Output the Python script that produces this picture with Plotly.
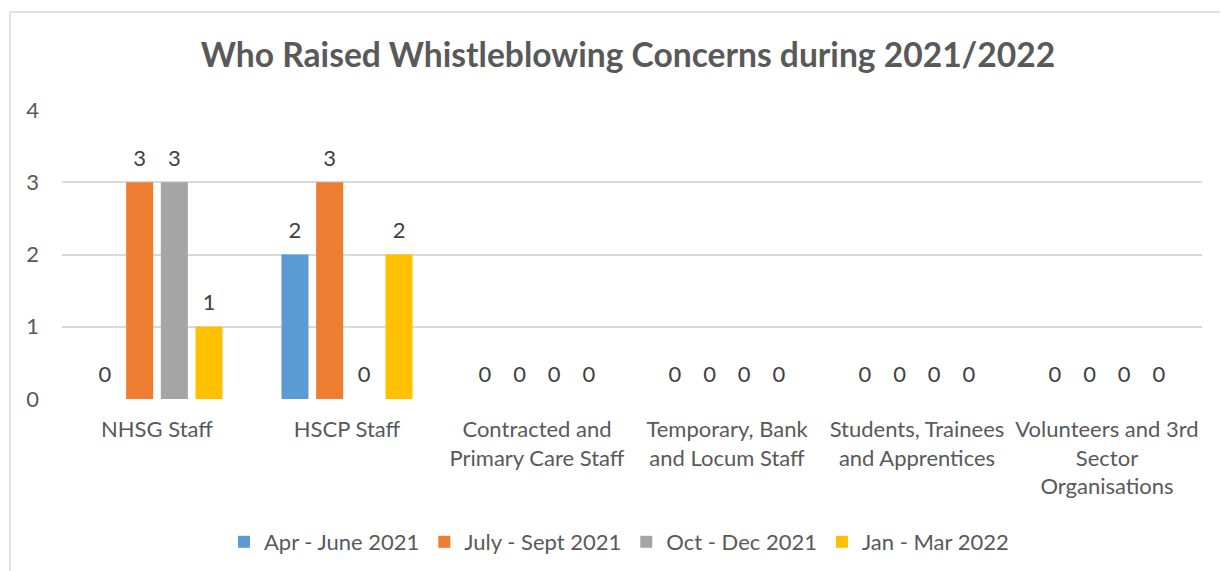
import plotly.graph_objects as go

categories = ["NHSG Staff", "HSCP Staff", "Contracted and<br>Primary Care Staff",
              "Temporary, Bank<br>and Locum Staff", "Students, Trainees<br>and Apprentices",
              "Volunteers and 3rd<br>Sector<br>Organisations"]
series_names = ["Apr - June 2021", "July - Sept 2021", "Oct - Dec 2021", "Jan - Mar 2022"]
apr_jun = [0, 2, 0, 0, 0, 0]
jul_sep = [3, 3, 0, 0, 0, 0]
oct_dec = [3, 0, 0, 0, 0, 0]
jan_mar = [1, 2, 0, 0, 0, 0]
y_ticks = [0, 1, 2, 3, 4]

colors = ["#5B9BD5", "#ED7D31", "#A5A5A5", "#FFC000"]
FONT = "Lato, 'Open Sans', sans-serif"
FS = 22

fig = go.Figure()
for name, vals, c in zip(series_names, [apr_jun, jul_sep, oct_dec, jan_mar], colors):
    fig.add_trace(go.Bar(
        x=categories, y=vals, name=name, marker=dict(color=c, line=dict(width=0)),
        text=[f"<span style='font-size:{FS}px'>{v}</span><br> " for v in vals],
        textposition="outside", cliponaxis=False,
        textfont=dict(size=9, color="#404040", family=FONT),
    ))

OFF = 8  # page offset
W, H = 1228, 571
ml, mr, mt, mb = 62 - OFF, W - (1202 - OFF), 110 - OFF, H - (399 - OFF)
pw, ph = W - ml - mr, H - mt - mb

def px(x):
    return (x - OFF - ml) / pw

def py(y):
    return (H - mb - (y - OFF)) / ph

fig.update_layout(
    width=W, height=H,
    margin=dict(l=ml, r=mr, t=mt, b=mb, autoexpand=False),
    paper_bgcolor="white", plot_bgcolor="white",
    barmode="group", bargap=0.27, bargroupgap=0.22,
    title=dict(text="<b>Who Raised Whistleblowing Concerns during 2021/2022</b>",
               x=px(628), xanchor="center", xref="paper", y=1 - (55 - OFF) / H, yanchor="middle",
               font=dict(size=33.6, color="#595959", family=FONT)),
    font=dict(family=FONT, color="#595959", size=FS),
    xaxis=dict(showgrid=False, showline=False, ticks="", ticklabelstandoff=15,
               tickfont=dict(size=FS, color="#595959")),
    yaxis=dict(range=[0, 4], tickvals=y_ticks, showgrid=True, gridcolor="#D9D9D9", gridwidth=1.5,
               zeroline=False, showline=False, ticks="", ticklabelstandoff=22,
               tickfont=dict(size=FS, color="#595959")),
    legend=dict(orientation="h", x=px(619), xanchor="center", y=py(542), yanchor="middle",
                font=dict(size=FS, color="#595959"), itemwidth=30, tracegroupgap=0),
    showlegend=True,
    shapes=[dict(type="rect", xref="paper", yref="paper",
                 x0=px(10), x1=px(1250), y0=py(600), y1=py(12),
                 line=dict(color="#D9D9D9", width=1.5), layer="below")],
)

fig.write_html("out.html")
